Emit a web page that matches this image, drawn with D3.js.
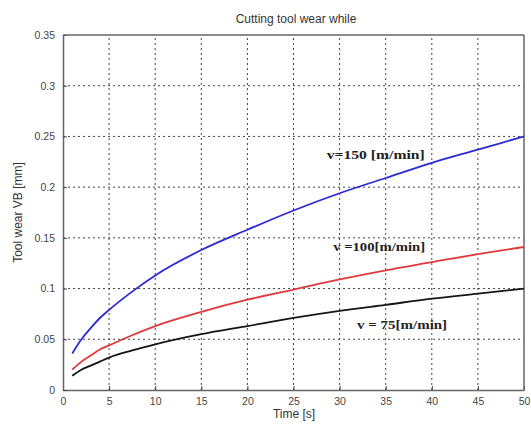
<!DOCTYPE html>
<html><head><meta charset="utf-8">
<script src="https://cdn.jsdelivr.net/npm/d3@7"></script>
<style>body{margin:0;background:#fff}svg{display:block}</style>
</head><body>
<script>
const times = [1, 2, 3, 4, 5, 7.5, 10, 15, 20, 25, 30, 35, 40, 45, 50];
const wear150 = [0.036, 0.050, 0.061, 0.071, 0.079, 0.097, 0.113, 0.138, 0.158, 0.177, 0.194, 0.209, 0.224, 0.237, 0.250];
const wear100 = [0.020, 0.028, 0.034, 0.040, 0.044, 0.054, 0.063, 0.077, 0.089, 0.099, 0.109, 0.118, 0.126, 0.134, 0.141];
const wear75  = [0.014, 0.020, 0.024, 0.028, 0.032, 0.039, 0.045, 0.055, 0.063, 0.071, 0.078, 0.084, 0.090, 0.095, 0.100];
const seriesNames = ["v=150 [m/min]", "v =100[m/min]", "v = 75[m/min]"];
const xTicks = [0, 5, 10, 15, 20, 25, 30, 35, 40, 45, 50];
const yTicks = [0, 0.05, 0.1, 0.15, 0.2, 0.25, 0.3, 0.35];
const yTickLabels = ["0", "0.05", "0.1", "0.15", "0.2", "0.25", "0.3", "0.35"];

const W = 531, H = 430;
const m = {l: 63, r: 7, t: 35, b: 40};
const svg = d3.select("body").append("svg").attr("width", W).attr("height", H);
const x = d3.scaleLinear().domain([0, 50]).range([m.l, W - m.r]);
const y = d3.scaleLinear().domain([0, 0.35]).range([H - m.b, m.t]);
const font = "Liberation Sans, Arial, sans-serif";

// grid
const g = svg.append("g");
g.selectAll(".gx").data(xTicks.slice(1, -1)).join("line")
  .attr("x1", d => x(d)).attr("x2", d => x(d)).attr("y1", y(0)).attr("y2", y(0.35))
  .attr("stroke", "#444").attr("stroke-width", 1).attr("stroke-dasharray", "2,3");
g.selectAll(".gy").data(yTicks.slice(1, -1)).join("line")
  .attr("x1", x(0)).attr("x2", x(50)).attr("y1", d => y(d)).attr("y2", d => y(d))
  .attr("stroke", "#444").attr("stroke-width", 1).attr("stroke-dasharray", "2,3");

// axes
const xAxis = d3.axisBottom(x).tickValues(xTicks).tickSizeInner(-4).tickSizeOuter(0).tickPadding(8).tickFormat(d3.format("d"));
const yAxis = d3.axisLeft(y).tickValues(yTicks).tickSizeInner(-4).tickSizeOuter(0).tickPadding(8).tickFormat((d, i) => yTickLabels[i]);
const ax = svg.append("g").attr("transform", `translate(0,${y(0)})`).call(xAxis);
const ay = svg.append("g").attr("transform", `translate(${x(0)},0)`).call(yAxis);
[ax, ay].forEach(a => {
  a.select(".domain").attr("stroke", "#666").attr("stroke-width", 1.5);
  a.selectAll(".tick line").attr("stroke", "#444");
  a.selectAll("text").attr("font-family", font).attr("font-size", 10.5).attr("fill", "#444");
});
// top and right box lines
svg.append("line").attr("x1", x(0)).attr("x2", x(50)).attr("y1", y(0.35)).attr("y2", y(0.35)).attr("stroke", "#666").attr("stroke-width", 1.5);
svg.append("line").attr("x1", x(50)).attr("x2", x(50)).attr("y1", y(0.35)).attr("y2", y(0)).attr("stroke", "#666").attr("stroke-width", 1.5);

// lines
const line = d3.line().x((d, i) => x(times[i])).y(d => y(d)).curve(d3.curveMonotoneX);
const series = [wear150, wear100, wear75];
const colors = ["#2a2ad6", "#e0393a", "#151515"];
series.forEach((s, k) => {
  svg.append("path").datum(s).attr("d", line).attr("fill", "none")
    .attr("stroke", colors[k]).attr("stroke-width", 1.8);
});

// annotations
const ann = [[28.6, 0.2277], [29.3, 0.137], [31.9, 0.060]];
const annW = [98, 92, 90];
ann.forEach((p, k) => {
  svg.append("text").attr("x", x(p[0])).attr("y", y(p[1])).text(seriesNames[k])
    .attr("font-family", "Liberation Serif, Times New Roman, serif").attr("font-weight", "bold")
    .attr("font-size", 13).attr("fill", "#222")
    .attr("textLength", annW[k]).attr("lengthAdjust", "spacingAndGlyphs");
});

// titles
svg.append("text").attr("x", 296).attr("y", 23).attr("text-anchor", "middle")
  .attr("font-family", font).attr("font-size", 12).attr("fill", "#333").text("Cutting tool wear while");
svg.append("text").attr("x", 294).attr("y", 418).attr("text-anchor", "middle")
  .attr("font-family", font).attr("font-size", 12).attr("fill", "#333").text("Time [s]");
svg.append("text").attr("transform", `translate(22,${(y(0) + y(0.35)) / 2}) rotate(-90)`).attr("text-anchor", "middle")
  .attr("font-family", font).attr("font-size", 12).attr("fill", "#333").text("Tool wear VB [mm]");
</script>
</body></html>
